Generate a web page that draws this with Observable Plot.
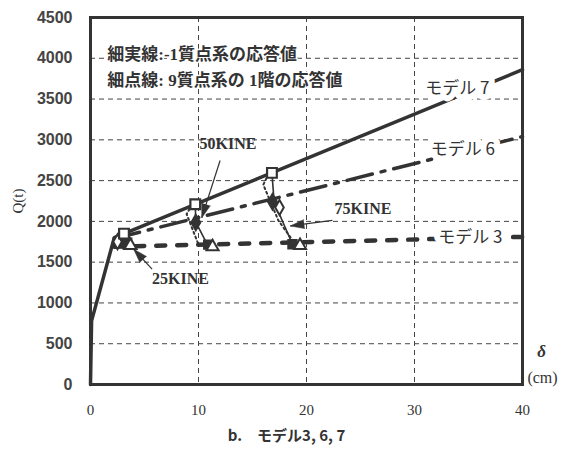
<!DOCTYPE html>
<html>
<head>
<meta charset="utf-8">
<script src="https://cdn.jsdelivr.net/npm/d3@7"></script>
<script src="https://cdn.jsdelivr.net/npm/@observablehq/plot@0.6"></script>
<style>
  html, body { margin: 0; padding: 0; background: #fff; }
</style>
</head>
<body>
<div id="chart"></div>
<script>
// Skeleton curves: displacement δ (cm) vs shear Q (t)
const model7X = [0, 0.1, 2.2, 40];
const model7Q = [0, 780, 1800, 3860];
const model6X = [2.2, 40];
const model6Q = [1790, 3040];
const model3X = [2.2, 40];
const model3Q = [1690, 1810];

// Peak response points on model 7 (25, 50, 75 KINE)
const peakX = [3.1, 9.7, 16.8];
const peakQ = [1850, 2210, 2595];

// Thin solid: 1-mass system responses
const sdofLevel = ["25", "25", "50", "50", "50", "75", "75", "75"];
const sdofX = [3.1, 3.5, 9.7, 9.75, 10.8, 16.8, 17.0, 18.7];
const sdofQ = [1850, 1725, 2210, 1990, 1720, 2595, 2240, 1720];

// Thin dotted: 1st storey of the 9-mass system
const mdofLevel = ["25", "25", "50", "50", "50", "75", "75", "75", "75"];
const mdofX = [2.6, 3.3, 9.4, 8.9, 10.0, 16.5, 16.0, 17.4, 19.0];
const mdofQ = [1800, 1700, 2205, 2090, 1715, 2585, 2450, 2010, 1715];

// Response markers
const filledSqX = [3.4, 10.9, 18.7];
const filledSqQ = [1740, 1715, 1720];
const openTriX = [3.7, 11.3, 19.4];
const openTriQ = [1705, 1690, 1705];
const filledDiaX = [3.0, 9.75, 16.85];
const filledDiaQ = [1770, 1985, 2240];
const openDiaX = [2.5, 17.5];
const openDiaQ = [1750, 2170];

// Input level annotations
const kineText = ["25KINE", "50KINE", "75KINE"];
const kineX = [5.7, 10.1, 22.6];
const kineQ = [1300, 2950, 2150];
const kineFromX = [5.7, 12.0, 22.4];
const kineFromQ = [1414, 2747, 2013];
const kineToX = [4.0, 10.3, 18.5];
const kineToQ = [1659, 2045, 1944];

// Curve labels
const modelText = ["モデル 7", "モデル 6", "モデル 3"];
const modelLabelX = [31.0, 31.5, 32.2];
const modelLabelQ = [3630, 2880, 1800];

// Notes
const noteText = ["細実線:-1質点系の応答値", "細点線: 9質点系の 1階の応答値"];
const noteX = [1.55, 1.55];
const noteQ = [4050, 3730];

const xTicks = [0, 10, 20, 30, 40];
const yTicks = d3.range(0, 4501, 500);
const xGrid = [10, 20, 30];
const yGrid = d3.range(500, 4001, 500);

const ink = "#333";
const serif = "Liberation Serif, Noto Sans CJK JP, serif";
const sans = "Liberation Sans, sans-serif";
const gothic = "Noto Sans CJK JP, sans-serif";

const W = 562, H = 450, mL = 90, mR = 40, mT = 17, mB = 66;
const xDomain = [0, 40], yDomain = [0, 4500];

const pts = (xs, ys, extra = {}) => xs.map((x, i) => ({x, y: ys[i], ...Object.fromEntries(Object.entries(extra).map(([k, v]) => [k, v[i]]))}));

const m7 = pts(model7X, model7Q);
const m6 = pts(model6X, model6Q);
const m3 = pts(model3X, model3Q);
const sdof = pts(sdofX, sdofQ, {g: sdofLevel});
const mdof = pts(mdofX, mdofQ, {g: mdofLevel});

// arrow direction in screen space, for the filled arrowheads
const pxPerX = (W - mL - mR) / (xDomain[1] - xDomain[0]);
const pxPerY = (H - mT - mB) / (yDomain[1] - yDomain[0]);
const arrows = kineText.map((t, i) => {
  const dx = (kineToX[i] - kineFromX[i]) * pxPerX;
  const dy = -(kineToQ[i] - kineFromQ[i]) * pxPerY;
  return {
    x1: kineFromX[i], y1: kineFromQ[i], x2: kineToX[i], y2: kineToQ[i],
    rot: Math.atan2(dx, -dy) * 180 / Math.PI
  };
});

const chart = Plot.plot({
  width: W, height: H,
  marginLeft: mL, marginRight: mR, marginTop: mT, marginBottom: mB,
  x: {domain: xDomain},
  y: {domain: yDomain},
  style: {background: "#fff", color: ink, fontFamily: serif},
  marks: [
    Plot.gridX(xGrid, {stroke: "#444", strokeOpacity: 1, strokeWidth: 1, strokeDasharray: "5,4"}),
    Plot.gridY(yGrid, {stroke: "#444", strokeOpacity: 1, strokeWidth: 1, strokeDasharray: "5,4"}),
    Plot.axisX({ticks: xTicks, tickSize: 0, tickPadding: 20, fontSize: 15, fontFamily: serif, fill: ink, label: null}),
    Plot.axisY({ticks: yTicks, tickFormat: d => String(d), tickSize: 0, tickPadding: 18, fontSize: 16, fontWeight: "bold", fontFamily: sans, fill: "#444", label: null}),
    // notes
    Plot.text(pts(noteX, noteQ, {t: noteText}), {x: "x", y: "y", text: "t", textAnchor: "start", fontSize: 17, fontWeight: "bold", fontFamily: serif, fill: ink, stroke: "#fff", strokeWidth: 3, paintOrder: "stroke"}),
    // skeleton curves
    Plot.line(m3, {x: "x", y: "y", stroke: ink, strokeWidth: 4.5, strokeDasharray: "9,12"}),
    Plot.line(m6, {x: "x", y: "y", stroke: ink, strokeWidth: 3.5, strokeDasharray: "26,9,4,9"}),
    Plot.line(m7, {x: "x", y: "y", stroke: ink, strokeWidth: 3.5}),
    // response paths
    Plot.line(mdof, {x: "x", y: "y", z: "g", stroke: ink, strokeWidth: 2, strokeDasharray: "2,3"}),
    Plot.line(sdof, {x: "x", y: "y", z: "g", stroke: ink, strokeWidth: 1.6}),
    // markers
    Plot.dot(pts(filledDiaX, filledDiaQ), {x: "x", y: "y", symbol: "diamond", r: 5, fill: ink, stroke: ink}),
    Plot.dot(pts(openDiaX, openDiaQ), {x: "x", y: "y", symbol: "diamond", r: 4.5, fill: "#fff", stroke: ink, strokeWidth: 2}),
    Plot.dot(pts(filledSqX, filledSqQ), {x: "x", y: "y", symbol: "square", r: 5, fill: ink, stroke: ink}),
    Plot.dot(pts(openTriX, openTriQ), {x: "x", y: "y", symbol: "triangle", r: 4.5, fill: "#fff", stroke: ink, strokeWidth: 2}),
    Plot.dot(pts(peakX, peakQ), {x: "x", y: "y", symbol: "square", r: 5.5, fill: "#fff", stroke: ink, strokeWidth: 2.2}),
    // KINE annotations
    Plot.link(arrows, {x1: "x1", y1: "y1", x2: "x2", y2: "y2", stroke: ink, strokeWidth: 1.2}),
    Plot.vector(arrows, {x: "x2", y: "y2", rotate: "rot", length: 14, r: 4.5, shape: "spike", anchor: "end", fill: ink, stroke: ink, strokeWidth: 0.5}),
    Plot.text(pts(kineX, kineQ, {t: kineText}), {x: "x", y: "y", text: "t", textAnchor: "start", fontSize: 16, fontWeight: "bold", fontFamily: serif, fill: ink}),
    // curve labels sit on a white halo that breaks the lines behind them
    Plot.text(pts(modelLabelX, modelLabelQ, {t: modelText}), {x: "x", y: "y", text: "t", textAnchor: "start", fontSize: 17, fontFamily: gothic, fill: "#fff", stroke: "#fff", strokeWidth: 12, strokeLinejoin: "round"}),
    Plot.text(pts(modelLabelX, modelLabelQ, {t: modelText}), {x: "x", y: "y", text: "t", textAnchor: "start", fontSize: 17, fontFamily: gothic, fill: ink}),
    Plot.frame({stroke: ink, strokeWidth: 3}),
    // axis titles and caption
    Plot.text(["Q(t)"], {frameAnchor: "left", dx: -72, rotate: -90, textAnchor: "middle", fontSize: 15, fontFamily: serif, fill: ink}),
    Plot.text(["δ"], {frameAnchor: "bottom-right", dx: 19, dy: -28, textAnchor: "middle", fontSize: 17, fontWeight: "bold", fontStyle: "italic", fontFamily: serif, fill: ink}),
    Plot.text(["(cm)"], {frameAnchor: "bottom-right", dx: 20, dy: -2, textAnchor: "middle", fontSize: 16, fontFamily: serif, fill: ink}),
    Plot.text(["b.　モデル3, 6, 7"], {frameAnchor: "bottom", dx: -20, dy: 56, textAnchor: "middle", fontSize: 15, fontWeight: "bold", fontFamily: gothic, fill: ink})
  ]
});

document.getElementById("chart").appendChild(chart);
</script>
</body>
</html>
